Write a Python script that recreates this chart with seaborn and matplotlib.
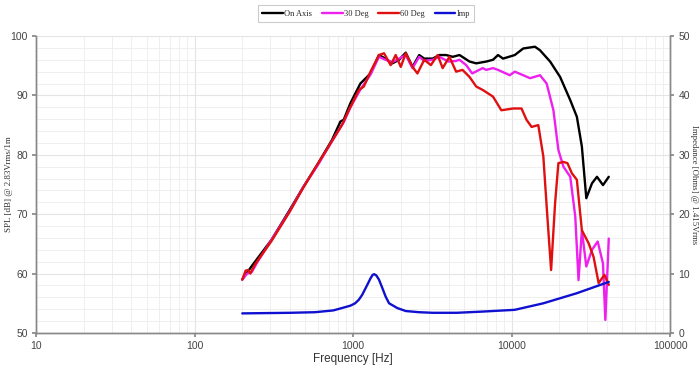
import numpy as np
import pandas as pd
import matplotlib
matplotlib.use("Agg")
import matplotlib.pyplot as plt
from matplotlib.ticker import FixedLocator, NullFormatter, FuncFormatter
import seaborn as sns

# ---- data ----
on_axis_freq = [200, 230, 306, 400, 486, 600, 736, 832, 873, 962, 1112, 1288, 1456, 1600, 1770,
                1950, 2148, 2370, 2612, 2810, 3177, 3502, 3860, 4254, 4690, 5429, 5980, 6915,
                7631, 8204, 8830, 10470, 11830, 14030, 15100, 17490, 20230, 23430, 25790,
                27730, 29580, 32120, 34540, 37690, 41000]
on_axis_spl = [59.0, 61.3, 65.7, 70.8, 74.6, 78.5, 82.5, 85.6, 85.9, 88.7, 92.0, 93.7, 96.8, 96.2, 95.4,
               96.0, 97.2, 94.8, 96.8, 96.2, 96.2, 96.8, 96.8, 96.5, 96.8, 95.7, 95.4, 95.7,
               96.0, 96.8, 96.2, 96.8, 97.9, 98.2, 97.6, 95.7, 93.1, 89.2, 86.4,
               81.4, 72.7, 75.2, 76.3, 74.9, 76.3]

deg30_freq = [200, 215, 230, 250, 306, 400, 486, 600, 736, 873, 962, 1112, 1288, 1456, 1600, 1770,
              2148, 2370, 2612, 2810, 3177, 3502, 3673, 4000, 4443, 4690, 5170, 5640, 6570,
              6915, 7631, 8204, 9730, 10470, 11830, 13060, 15100, 16630, 18350, 19720, 21220,
              23430, 25200, 26420, 27730, 29580, 32120, 34900, 37690, 39000, 41000]
deg30_spl = [59.0, 60.0, 60.3, 62.0, 65.7, 70.6, 74.6, 78.3, 82.3, 85.5, 88.0, 91.0, 93.5, 96.5, 96.0, 95.6,
             96.8, 94.6, 96.5, 95.8, 96.0, 96.5, 96.2, 95.7, 95.8, 96.0, 95.1, 93.7, 94.6,
             94.3, 94.6, 94.3, 93.4, 94.0, 93.4, 92.9, 93.4, 92.0, 87.5, 80.8, 78.0,
             76.3, 69.6, 58.9, 67.3, 61.2, 64.0, 65.4, 61.7, 52.2, 65.9]

deg60_freq = [200, 210, 218, 225, 240, 306, 400, 486, 600, 736, 850, 940, 1087, 1169, 1288, 1456,
              1567, 1726, 1856, 2000, 2148, 2370, 2546, 2810, 3096, 3414, 3673, 4052, 4466,
              4900, 5429, 5980, 6592, 7631, 8610, 10230, 11540, 12410, 13360, 14730, 15850,
              16800, 17740, 18790, 19720, 21220, 22490, 23970, 25790, 27730, 30600, 32880,
              35380, 38460, 41000]
deg60_spl = [59.0, 60.5, 60.6, 60.0, 61.5, 65.5, 70.5, 74.5, 78.5, 82.3, 85.0, 87.5, 90.9, 91.5, 94.0, 96.8,
             97.1, 95.1, 96.8, 94.8, 97.1, 94.8, 93.7, 96.0, 95.1, 96.8, 94.6, 96.5, 94.0,
             94.3, 93.1, 91.5, 90.9, 89.8, 87.5, 87.8, 87.8, 85.9, 84.7, 85.0, 79.7,
             69.6, 60.6, 71.8, 78.6, 78.8, 78.6, 76.9, 75.8, 67.3, 65.1, 62.8,
             58.4, 59.8, 58.1]

imp_freq = [200, 400, 576, 750, 851, 962, 1030, 1087, 1140, 1197, 1250, 1288, 1330, 1358, 1400,
            1456, 1528, 1606, 1687, 1900, 2148, 2600, 3177, 4500, 6500, 10470, 15850, 25790, 41000]
imp_ohm = [3.3, 3.4, 3.5, 3.8, 4.2, 4.6, 5.0, 5.6, 6.4, 7.5, 8.5, 9.2, 9.8, 9.9, 9.7,
           9.0, 7.6, 6.1, 5.0, 4.2, 3.7, 3.5, 3.4, 3.4, 3.6, 3.9, 5.0, 6.7, 8.6]

series_names = ["On Axis", "30 Deg", "60 Deg", "Imp"]
series_colors = ["#000000", "#ee20ee", "#e01010", "#1010d0"]
x_ticks = [10, 100, 1000, 10000, 100000]
left_ticks = [50, 60, 70, 80, 90, 100]
right_ticks = [0, 10, 20, 30, 40, 50]

# ---- figure ----
sns.set_theme(style="white")
plt.rcParams['font.family'] = ['Liberation Sans', 'DejaVu Sans']

fig = plt.figure(figsize=(7.0, 3.65), dpi=100)
ax = fig.add_axes([0.0514, 0.0877, 0.906, 0.8136])
ax2 = ax.twinx()

spl_sets = [(on_axis_freq, on_axis_spl), (deg30_freq, deg30_spl), (deg60_freq, deg60_spl)]
for (f, v), name, col in zip(spl_sets, series_names[:3], series_colors[:3]):
    df = pd.DataFrame({"freq": f, "val": v})
    sns.lineplot(data=df, x="freq", y="val", ax=ax, color=col, linewidth=1.7, label=name,
                 legend=False)
dfi = pd.DataFrame({"freq": imp_freq, "val": imp_ohm})
sns.lineplot(data=dfi, x="freq", y="val", ax=ax2, color=series_colors[3], linewidth=1.7,
             label=series_names[3], legend=False)

ax.set_xscale("log")
ax.set_xlim(10, 100000)
ax.set_ylim(50, 100)
ax2.set_ylim(0, 50)

ax.set_xticks(x_ticks)
ax.xaxis.set_major_formatter(FuncFormatter(lambda v, p: f"{int(v)}"))
ax.xaxis.set_minor_formatter(NullFormatter())
ax.set_yticks(left_ticks)
ax.yaxis.set_minor_locator(FixedLocator(np.arange(50, 101, 2)))
ax2.set_yticks(right_ticks)

ax.grid(True, which="major", color="#e4e4e4", linewidth=0.8)
ax.grid(True, which="minor", color="#ececec", linewidth=0.6)
ax2.grid(False)
ax.set_axisbelow(True)

for a in (ax, ax2):
    a.spines["top"].set_visible(False)
    for s in ("left", "bottom", "right"):
        a.spines[s].set_color("#888888")
        a.spines[s].set_linewidth(1.0)

ax.tick_params(axis="both", which="major", labelsize=7.5, labelcolor="#444444", length=3,
               color="#888888", left=True, bottom=True, direction="out", pad=3)
ax.tick_params(axis="y", which="minor", length=0)
ax.tick_params(axis="x", which="minor", length=0)
ax2.tick_params(axis="y", which="major", labelsize=7.5, labelcolor="#444444", length=3,
                color="#888888", right=True, direction="out", pad=3)

ax.set_xlabel("Frequency [Hz]", fontsize=8.5, color="#333333", labelpad=1)
ax.set_ylabel("SPL [dB] @ 2.83Vrms/1m", fontsize=6.5, family="Liberation Serif", color="#333333")
ax.yaxis.set_label_coords(-0.036, 0.5)
ax2.set_ylabel("Impedance [Ohms] @ 1.415Vrms", fontsize=6.3, family="Liberation Serif",
               color="#333333", rotation=270, va="center")
ax2.yaxis.set_label_coords(1.037, 0.5)

h1, l1 = ax.get_legend_handles_labels()
h2, l2 = ax2.get_legend_handles_labels()
leg = fig.legend(h1 + h2, l1 + l2, loc="upper center", bbox_to_anchor=(0.523, 0.985), ncol=4,
                 frameon=True, fancybox=False, edgecolor="#cccccc", framealpha=1,
                 prop={"family": "Liberation Serif", "size": 6}, handlelength=2.5,
                 handletextpad=0.1, columnspacing=1.2, borderpad=0.5, borderaxespad=0)
leg.get_frame().set_linewidth(0.8)

fig.savefig("out.png", dpi=100, facecolor="white")
